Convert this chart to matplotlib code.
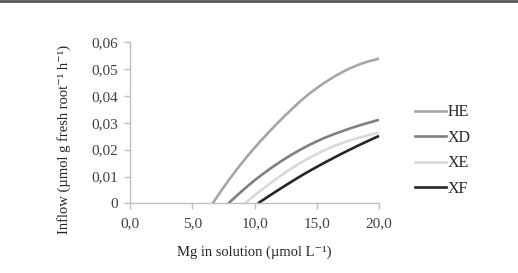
import matplotlib
matplotlib.use("Agg")
import matplotlib.pyplot as plt
from matplotlib.lines import Line2D
from matplotlib.path import Path
from matplotlib.patches import PathPatch

plt.rcParams['font.family'] = ['Liberation Serif', 'DejaVu Serif']

series_names = ["HE", "XD", "XE", "XF"]
he_x = [6.63, 7, 8, 9, 10, 11, 12, 13, 14, 15, 16, 17, 18, 19, 20]
he_y = [0.0, 0.0026, 0.0092, 0.0152, 0.0207, 0.0258, 0.0306, 0.0351, 0.0393,
        0.0429, 0.0460, 0.0487, 0.0509, 0.0526, 0.0538]
xd_x = [7.88, 9, 10, 11, 12, 13, 14, 15, 16, 17, 18, 19, 20]
xd_y = [0.0, 0.0047, 0.0086, 0.0121, 0.0153, 0.0182, 0.0208, 0.0231, 0.0251,
        0.0268, 0.0284, 0.0298, 0.0311]
xe_x = [9.2, 10, 11, 12, 13, 14, 15, 16, 17, 18, 19, 20]
xe_y = [0.0, 0.0030, 0.0066, 0.0100, 0.0131, 0.0159, 0.0184, 0.0206, 0.0224,
        0.0239, 0.0252, 0.0263]
xf_x = [10.25, 11, 12, 13, 14, 15, 16, 17, 18, 19, 20]
xf_y = [0.0, 0.0023, 0.0053, 0.0082, 0.0110, 0.0136, 0.0161, 0.0185, 0.0208,
        0.0230, 0.0251]
colors = ["#a6a6a6", "#808080", "#d9d9d9", "#262626"]

x_ticks = [0, 5, 10, 15, 20]
x_tick_labels = ["0,0", "5,0", "10,0", "15,0", "20,0"]
y_ticks = [0, 0.01, 0.02, 0.03, 0.04, 0.05, 0.06]
y_tick_labels = ["0", "0,01", "0,02", "0,03", "0,04", "0,05", "0,06"]


def smooth_path(xs, ys):
    """Cubic Bezier (Catmull-Rom style) path through the given points."""
    n = len(xs)
    verts = [(xs[0], ys[0])]
    codes = [Path.MOVETO]
    for i in range(n - 1):
        x0, y0 = xs[max(i - 1, 0)], ys[max(i - 1, 0)]
        x1, y1 = xs[i], ys[i]
        x2, y2 = xs[i + 1], ys[i + 1]
        x3, y3 = xs[min(i + 2, n - 1)], ys[min(i + 2, n - 1)]
        c1 = (x1 + (x2 - x0) / 6.0, y1 + (y2 - y0) / 6.0)
        c2 = (x2 - (x3 - x1) / 6.0, y2 - (y3 - y1) / 6.0)
        verts += [c1, c2, (x2, y2)]
        codes += [Path.CURVE4] * 3
    return Path(verts, codes)


fig = plt.figure(figsize=(5.18, 2.73), dpi=100)
ax = fig.add_axes([0.2514, 0.2546, 0.4803, 0.5914])

data = [(he_x, he_y), (xd_x, xd_y), (xe_x, xe_y), (xf_x, xf_y)]
for (xs, ys), name, c in zip(data, series_names, colors):
    patch = PathPatch(smooth_path(xs, ys), facecolor='none', edgecolor=c, lw=1.9,
                      capstyle='butt', transform=ax.transData, clip_on=False)
    ax.add_patch(patch)
    ax.plot([], [], color=c, lw=1.9, label=name)

ax.set_xlim(0, 20)
ax.set_ylim(0, 0.06)
ax.set_xticks(x_ticks)
ax.set_xticklabels(x_tick_labels)
ax.set_yticks(y_ticks)
ax.set_yticklabels(y_tick_labels)
for s in ['top', 'right']:
    ax.spines[s].set_visible(False)
for s in ['left', 'bottom']:
    ax.spines[s].set_color('#bfbfbf')
    ax.spines[s].set_linewidth(1.0)
ax.tick_params(axis='both', colors='#bfbfbf', labelcolor='#404040', labelsize=11, length=4, width=1.0)
ax.tick_params(axis='x', pad=6)
ax.tick_params(axis='y', pad=5)

ax.set_xlabel("Mg in solution (µmol L\u207b\u00b9)", fontsize=10.5, color='#262626', labelpad=11)
ax.set_ylabel("Inflow (µmol g fresh root\u207b\u00b9 h\u207b\u00b9)", fontsize=10.5, color='#262626')
ax.yaxis.set_label_coords(-0.237, 0.396)

leg = ax.legend(loc='upper left', bbox_to_anchor=(1.12, 0.655), frameon=False, fontsize=11.5,
                handlelength=1.9, handletextpad=0.1, labelspacing=0.6, borderaxespad=0)
for t in leg.get_texts():
    t.set_color('#262626')

fig.add_artist(Line2D([0, 1], [0.997, 0.997], transform=fig.transFigure, color='#595959', lw=2))

fig.savefig("out.png", dpi=100)
